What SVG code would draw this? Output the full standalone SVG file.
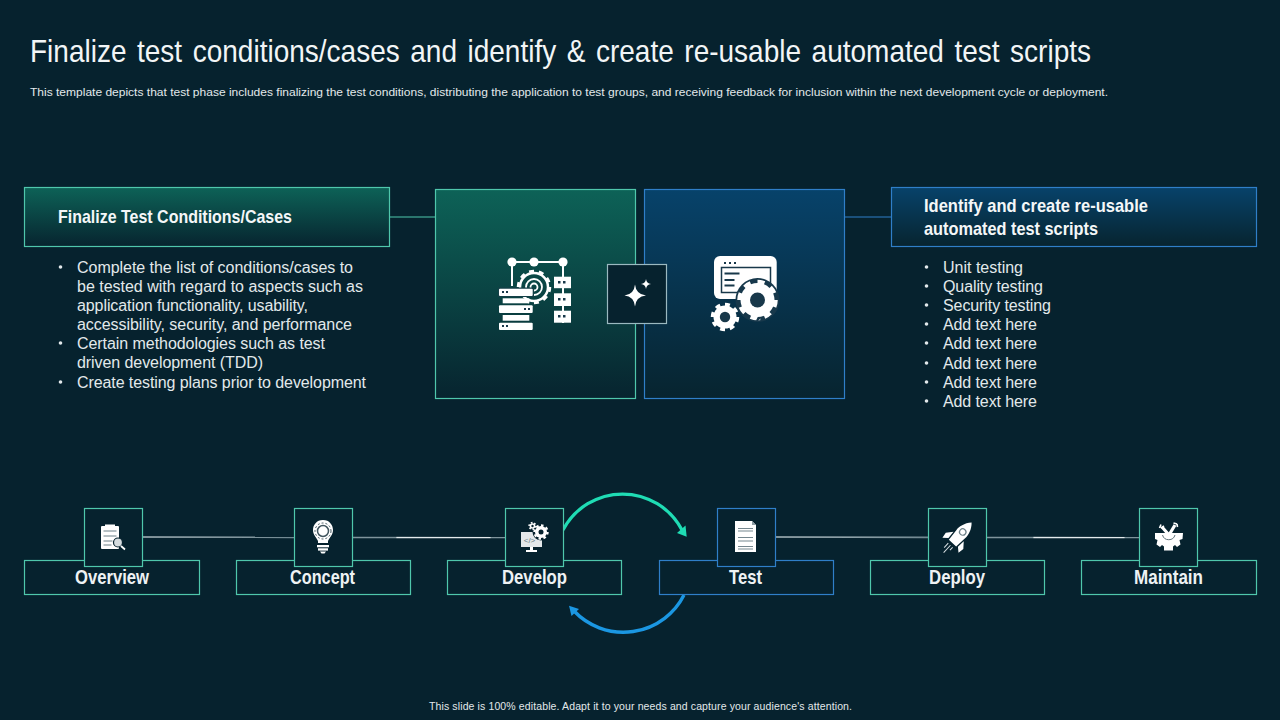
<svg xmlns="http://www.w3.org/2000/svg" width="1280" height="720" viewBox="0 0 1280 720">
<style>
.t{font-family:"Liberation Sans",Arial,sans-serif;fill:#e2e9eb}
.b{font-size:16px}
.h{font-family:"Liberation Sans",Arial,sans-serif;font-weight:700;font-size:18.500px;fill:#f4f7f8}
.l{font-family:"Liberation Sans",Arial,sans-serif;font-weight:700;font-size:20.500px;fill:#eef2f4;text-anchor:middle}
.g{fill:#06222e;stroke:#4fc7ac;stroke-width:1.2}
.u{fill:#06222e;stroke:#2f7fc8;stroke-width:1.2}
.w{fill:#fff}
.d{fill:#18384a}
.ln{stroke:#fff;fill:none}
.ring{fill:none;stroke:#fff;stroke-dasharray:1 1}
</style>
<defs>
<linearGradient id="gg" x1="0" y1="0" x2="0" y2="1"><stop offset="0" stop-color="#0d6257"/><stop offset="1" stop-color="#07242f"/></linearGradient>
<linearGradient id="bg" x1="0" y1="0" x2="0" y2="1"><stop offset="0" stop-color="#07426a"/><stop offset="1" stop-color="#07242f"/></linearGradient>
<linearGradient id="s1" gradientUnits="userSpaceOnUse" x1="143" y1="0" x2="294" y2="0"><stop offset="0" stop-color="#a9b8bd"/><stop offset="1" stop-color="#6f8790"/></linearGradient>
<linearGradient id="s2" gradientUnits="userSpaceOnUse" x1="353" y1="0" x2="505" y2="0"><stop offset="0" stop-color="#7f949c"/><stop offset=".28" stop-color="#7f949c"/><stop offset=".29" stop-color="#e3eaec"/><stop offset=".9" stop-color="#e3eaec"/><stop offset=".91" stop-color="#7f949c"/></linearGradient>
<linearGradient id="s3" gradientUnits="userSpaceOnUse" x1="776" y1="0" x2="928" y2="0"><stop offset="0" stop-color="#a9b8bd"/><stop offset="1" stop-color="#6f8790"/></linearGradient>
<linearGradient id="s4" gradientUnits="userSpaceOnUse" x1="987" y1="0" x2="1139" y2="0"><stop offset="0" stop-color="#7f949c"/><stop offset=".3" stop-color="#7f949c"/><stop offset=".31" stop-color="#e3eaec"/><stop offset=".9" stop-color="#e3eaec"/><stop offset=".91" stop-color="#7f949c"/></linearGradient>
</defs>
<rect width="1280" height="720" fill="#06222e"/>
<text id="title" x="30" y="61.500" textLength="1061" lengthAdjust="spacingAndGlyphs" style="font-family:'Liberation Sans',Arial,sans-serif;font-size:30.500px;fill:#f2f5f6;word-spacing:3px">Finalize test conditions/cases and identify &amp; create re-usable automated test scripts</text>
<text id="subtitle" class="t" x="30" y="96" font-size="11.500" textLength="1078" lengthAdjust="spacingAndGlyphs">This template depicts that test phase includes finalizing the test conditions, distributing the application to test groups, and receiving feedback for inclusion within the next development cycle or deployment.</text>
<g id="connectors" fill="none">
<line x1="390" y1="217" x2="436" y2="217" stroke="#4fc7ac" stroke-width="1.2"/>
<line x1="844" y1="217" x2="892" y2="217" stroke="#2f7fc8" stroke-width="1.2"/>
<line x1="143" y1="537" x2="294" y2="537.4" stroke="url(#s1)" stroke-width="1.6"/>
<line x1="353" y1="537.5" x2="505" y2="537.6" stroke="url(#s2)" stroke-width="1.3"/>
<line x1="776" y1="537" x2="928" y2="537.4" stroke="url(#s3)" stroke-width="1.6"/>
<line x1="987" y1="537.5" x2="1139" y2="537.6" stroke="url(#s4)" stroke-width="1.3"/>
<path d="M563 530A67.200 67.200 0 0 1 682 530" stroke="#1fdcb4" stroke-width="3.200"/>
<path d="M686.700 536.700L677 533L685.500 525.500Z" fill="#1fdcb4"/>
<path d="M684 595A68 68 0 0 1 574 611" stroke="#1b97e2" stroke-width="3.400"/>
<path d="M569 605.700L579 609L571.500 616Z" fill="#1b97e2"/>
</g>
<g id="left-header"><rect x="24.500" y="187.500" width="365" height="59" fill="url(#gg)" stroke="#4fc7ac" stroke-width="1.2"/>
<text class="h" x="58" y="223" textLength="234" lengthAdjust="spacingAndGlyphs">Finalize Test Conditions/Cases</text></g>
<g id="left-list" class="t b">
<circle cx="60.500" cy="267" r="1.800"/><circle cx="60.500" cy="343" r="1.800"/><circle cx="60.500" cy="382" r="1.800"/>
<text x="77" y="273" textLength="276" lengthAdjust="spacing">Complete the list of conditions/cases to</text>
<text x="77" y="292" textLength="286" lengthAdjust="spacing">be tested with regard to aspects such as</text>
<text x="77" y="311" textLength="231" lengthAdjust="spacing">application functionality,  usability,</text>
<text x="77" y="330" textLength="275" lengthAdjust="spacing">accessibility, security,  and performance</text>
<text x="77" y="349" textLength="248" lengthAdjust="spacing">Certain methodologies such as test</text>
<text x="77" y="368" textLength="186" lengthAdjust="spacing">driven development (TDD)</text>
<text x="77" y="388" textLength="289" lengthAdjust="spacing">Create testing plans prior to development</text>
</g>
<g id="left-panel"><rect x="435.500" y="189.500" width="200" height="209" fill="url(#gg)" stroke="#4fc7ac" stroke-width="1.2"/>
<g id="icon-servers">
<path class="ln" stroke-width="2" d="M512 286V262H563V323"/>
<circle class="w" cx="512" cy="262" r="4.600"/><circle class="w" cx="534" cy="262" r="4.600"/><circle class="w" cx="563" cy="262" r="4.600"/>
<rect class="w" x="554" y="276.700" width="17" height="11.500"/><rect class="w" x="554" y="293.300" width="17" height="12.700"/><rect class="w" x="554" y="310.700" width="17" height="12"/>
<path class="d" d="M558 281h2.500v2.500h-2.500zM563 281h2.500v2.500h-2.500zM558 298h2.500v2.500h-2.500zM563 298h2.500v2.500h-2.500zM558 315h2.500v2.500h-2.500zM563 315h2.500v2.500h-2.500z"/>
<circle cx="534" cy="287" r="14" fill="none" stroke="#fff" stroke-width="2.500"/>
<circle class="ring" cx="534" cy="287" r="15.500" stroke-width="3.500" pathLength="20"/>
<circle cx="534" cy="287" r="8" fill="none" stroke="#fff" stroke-width="1.800"/>
<circle cx="534" cy="287" r="3.500" fill="none" stroke="#fff" stroke-width="1.800"/>
<rect x="498" y="287.500" width="36" height="9.500" fill="#143f47"/>
<rect class="w" x="499" y="288.700" width="33.700" height="7.300" rx="1"/><rect class="w" x="502.700" y="298.300" width="26.600" height="5"/><rect class="w" x="499" y="305.300" width="33.700" height="7.700" rx="1"/><rect class="w" x="502.700" y="315" width="26.600" height="5.700"/><rect class="w" x="499" y="322.700" width="33.700" height="7.300" rx="1"/>
<path class="d" d="M502 291h2v2h-2zM506 291h2v2h-2zM524 308h2v2h-2zM528 308h2v2h-2zM502 325h2v2h-2zM506 325h2v2h-2z"/>
</g></g>
<g id="right-panel"><rect x="644.500" y="189.500" width="200" height="209" fill="url(#bg)" stroke="#2f7fc8" stroke-width="1.2"/>
<g id="icon-window">
<rect class="w" x="714" y="256" width="62.700" height="43" rx="6"/>
<rect x="721.500" y="267.500" width="49" height="25" fill="#fff" stroke="#18384a" stroke-width="1.500"/>
<path class="d" d="M724 262h2v2h-2zM729 262h2v2h-2zM734 262h2v2h-2zM724.500 272.500h15v2h-15zM724.500 279h10v2h-10zM724.500 284.500h10v2h-10z"/>
<circle cx="757.500" cy="300" r="22" fill="#17384b"/>
<circle class="w" cx="757.500" cy="300" r="17"/><circle class="ring" cx="757.500" cy="300" r="17.500" stroke-width="5.500" pathLength="16"/>
<circle class="d" cx="757.500" cy="300" r="7.500"/>
<circle class="w" cx="725" cy="317" r="11.500"/><circle class="ring" cx="725" cy="317" r="12" stroke-width="4.500" pathLength="16"/>
<circle class="d" cx="725" cy="317" r="5.200"/>
</g></g>
<g id="center-badge"><rect x="607.500" y="264.500" width="59" height="59" fill="#06222e" stroke="#9bb9c0" stroke-width="1.200"/>
<path class="w" d="M635 284.500Q636 294.500 646 295.500Q636 296.500 635 306.500Q634 296.500 624.500 295.500Q634 294.500 635 284.500Z"/>
<path class="w" d="M646 279Q646.500 283.500 651 284Q646.500 284.500 646 289Q645.500 284.500 641 284Q645.500 283.500 646 279Z"/></g>
<g id="right-header"><rect x="891.500" y="187.500" width="365" height="59" fill="url(#bg)" stroke="#2f7fc8" stroke-width="1.200"/>
<text class="h" x="924" y="212" textLength="224" lengthAdjust="spacingAndGlyphs">Identify and create re-usable</text>
<text class="h" x="924" y="235" textLength="174" lengthAdjust="spacingAndGlyphs">automated test scripts</text></g>
<g id="right-list" class="t b">
<circle cx="926.500" cy="267" r="1.800"/><circle cx="926.500" cy="286" r="1.800"/><circle cx="926.500" cy="305" r="1.800"/><circle cx="926.500" cy="324" r="1.800"/><circle cx="926.500" cy="343" r="1.800"/><circle cx="926.500" cy="363" r="1.800"/><circle cx="926.500" cy="382" r="1.800"/><circle cx="926.500" cy="401" r="1.800"/>
<text x="943" y="273" textLength="80" lengthAdjust="spacing">Unit testing</text>
<text x="943" y="292" textLength="100" lengthAdjust="spacing">Quality testing</text>
<text x="943" y="311" textLength="108" lengthAdjust="spacing">Security testing</text>
<text x="943" y="330" textLength="94" lengthAdjust="spacing">Add text here</text>
<text x="943" y="349" textLength="94" lengthAdjust="spacing">Add text here</text>
<text x="943" y="369" textLength="94" lengthAdjust="spacing">Add text here</text>
<text x="943" y="388" textLength="94" lengthAdjust="spacing">Add text here</text>
<text x="943" y="407" textLength="94" lengthAdjust="spacing">Add text here</text>
</g>
<g id="overview"><rect class="g" x="24.500" y="560.500" width="175" height="34"/><rect class="g" x="84.500" y="508.500" width="58" height="58"/>
<text class="l" x="112" y="584" textLength="74" lengthAdjust="spacingAndGlyphs">Overview</text>
<rect class="w" x="101" y="526" width="18" height="23" rx="1"/><rect class="w" x="105" y="524.500" width="10" height="3"/>
<path d="M103.500 531h13M103.500 536h13M103.500 541h9M103.500 545h8" stroke="#6d8088" stroke-width="1"/>
<circle cx="118" cy="542.500" r="4.500" fill="#d5dcdf" stroke="#06222e" stroke-width="1.200"/><path d="M121 546L125 549.500" stroke="#fff" stroke-width="1.800"/></g>
<g id="concept"><rect class="g" x="236.500" y="560.500" width="174" height="34"/><rect class="g" x="294.500" y="508.500" width="58" height="58"/>
<text class="l" x="322.500" y="584" textLength="65" lengthAdjust="spacingAndGlyphs">Concept</text>
<path class="w" d="M323 520C316.500 520 313 525 313 530C313 535 316.500 537.500 318 541V543H328V541C329.500 537.500 333 535 333 530C333 525 329.500 520 323 520Z"/>
<circle cx="323" cy="531" r="5.500" fill="none" stroke="#41555e" stroke-width="1.500"/><circle cx="323" cy="531" r="8" fill="none" stroke="#41555e" stroke-width="1" stroke-dasharray="2 2"/>
<rect class="w" x="317" y="545" width="12" height="2.300"/><rect class="w" x="318" y="548.300" width="10" height="2.300"/><path class="w" d="M320 551.500h6l-1.500 2h-3z"/></g>
<g id="develop"><rect class="g" x="447.500" y="560.500" width="174" height="34"/><rect class="g" x="505.500" y="508.500" width="58" height="58"/>
<text class="l" x="534.500" y="584" textLength="65" lengthAdjust="spacingAndGlyphs">Develop</text>
<rect x="521" y="532" width="21" height="15" fill="#e4e8ea"/><rect class="w" x="530" y="547" width="3" height="3"/><rect class="w" x="526" y="550" width="11" height="2"/>
<text x="529.500" y="543" font-size="8" text-anchor="middle" style="font-family:'Liberation Sans',sans-serif;fill:#6b7d85">&lt;/&gt;</text>
<circle cx="541" cy="532" r="8.500" fill="#06222e"/>
<circle class="w" cx="541" cy="532" r="6"/><circle class="ring" cx="541" cy="532" r="6.500" stroke-width="2.400" pathLength="16"/><circle cx="541" cy="532" r="2.500" fill="#06222e"/>
<circle class="w" cx="532.500" cy="526" r="2.800"/><circle class="ring" cx="532.500" cy="526" r="3.400" stroke-width="1.500" pathLength="12"/><circle cx="532.500" cy="526" r="1.200" fill="#06222e"/></g>
<g id="test"><rect class="u" x="659.500" y="560.500" width="174" height="34"/><rect class="u" x="717.500" y="508.500" width="58" height="58"/>
<text class="l" x="745.500" y="584" textLength="33" lengthAdjust="spacingAndGlyphs">Test</text>
<path class="w" d="M735 521H752L756 525V552H735Z"/><path d="M752 521V525H756Z" fill="#8e9ea5"/>
<path d="M738 528.500H753M738 531H753M738 537.500H753M738 541H753M738 546.500H753M738 549H753" stroke="#75878f" stroke-width="1"/></g>
<g id="deploy"><rect class="g" x="870.500" y="560.500" width="174" height="34"/><rect class="g" x="928.500" y="508.500" width="58" height="58"/>
<text class="l" x="957" y="584" textLength="56" lengthAdjust="spacingAndGlyphs">Deploy</text>
<g transform="translate(960 535) rotate(43)">
<path class="w" d="M0-17C5-12 6.500-5 6-1L5 11H-5L-6-1C-6.500-5-5-12 0-17Z"/>
<path class="w" d="M-7 2L-12 8L-11 14L-6.500 10ZM7 2L12 8L11 14L6.500 10Z"/>
<circle cx="0" cy="-4" r="3.200" fill="#fff" stroke="#6d8088" stroke-width="1.200"/>
<path d="M-3 14V20M0 14V24M3 14V18" stroke="#d8dfe2" stroke-width="1"/></g></g>
<g id="maintain"><rect class="g" x="1081.500" y="560.500" width="175" height="34"/><rect class="g" x="1139.500" y="508.500" width="58" height="58"/>
<text class="l" x="1168.500" y="584" textLength="69" lengthAdjust="spacingAndGlyphs">Maintain</text>
<path class="w" d="M1155 533H1183L1182.500 539L1179.500 540L1180.500 544.500L1177 547L1175 545L1173 546.500V550.500H1164V546.500L1162 545L1160 547L1156.500 544.500L1157.500 540L1155 539Z"/>
<path class="ln" stroke-width="3.200" d="M1162 527L1169 535M1175 525L1169 535"/>
<path class="ln" stroke-width="1.600" d="M1159.500 528L1161 524.500M1161 528L1164 526M1173.500 523L1177 524M1177.500 527L1177 524"/>
<path d="M1162.500 535A6.500 6.500 0 0 0 1175 535" fill="none" stroke="#5f727a" stroke-width="1"/></g>
<text id="footer" class="t" x="429" y="710" font-size="10.500" textLength="423" lengthAdjust="spacing">This slide is 100% editable.  Adapt it to your needs and capture your audience's attention.</text>
</svg>
